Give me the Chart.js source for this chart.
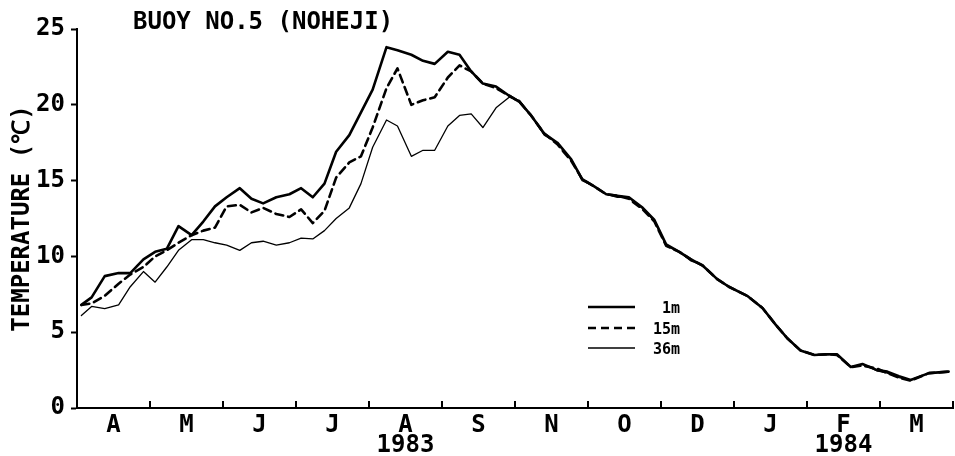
<!DOCTYPE html>
<html>
<head>
<meta charset="utf-8">
<script src="https://cdn.jsdelivr.net/npm/chart.js@4.4.0/dist/chart.umd.min.js"></script>
<style>
  html, body { margin: 0; padding: 0; background: #fff; }
  canvas { display: block; }
</style>
</head>
<body>
<canvas id="buoyChart" width="955" height="456"></canvas>
<script>
// x position in months counted from 1 April 1983 (about one reading per 5 days)
const months = [
  0.06, 0.20, 0.38, 0.57, 0.73, 0.91, 1.07, 1.23, 1.39, 1.57,
  1.73, 1.89, 2.05, 2.23, 2.39, 2.55, 2.73, 2.91, 3.07, 3.23,
  3.39, 3.55, 3.73, 3.89, 4.05, 4.24, 4.39, 4.58, 4.74, 4.90,
  5.08, 5.24, 5.40, 5.56, 5.74, 5.92, 6.06, 6.22, 6.40, 6.58,
  6.77, 6.92, 7.09, 7.25, 7.40, 7.56, 7.75, 7.91, 8.07, 8.25,
  8.41, 8.57, 8.77, 8.93, 9.18, 9.39, 9.57, 9.73, 9.91, 10.10,
  10.28, 10.41, 10.60, 10.76, 10.96, 11.10, 11.26, 11.42, 11.67, 11.94
];

const temp1m = [
  6.8, 7.3, 8.7, 8.9, 8.9, 9.8, 10.3, 10.5, 12.0, 11.4,
  12.3, 13.3, 13.9, 14.5, 13.8, 13.5, 13.9, 14.1, 14.5, 13.9,
  14.8, 16.9, 18.0, 19.5, 21.0, 23.8, 23.6, 23.3, 22.9, 22.7,
  23.5, 23.3, 22.2, 21.4, 21.2, 20.6, 20.2, 19.3, 18.1, 17.5,
  16.4, 15.1, 14.6, 14.1, 14.0, 13.9, 13.2, 12.4, 10.8, 10.3,
  9.8, 9.4, 8.5, 8.0, 7.4, 6.6, 5.5, 4.6, 3.8, 3.5,
  3.55, 3.55, 2.7, 2.9, 2.5, 2.4, 2.1, 1.85, 2.3, 2.4
];

const temp15m = [
  6.8, 6.9, 7.4, 8.2, 8.8, 9.3, 10.0, 10.4, 10.9, 11.4,
  11.7, 11.9, 13.3, 13.4, 12.9, 13.2, 12.8, 12.6, 13.1, 12.2,
  13.0, 15.2, 16.2, 16.6, 18.5, 21.1, 22.4, 20.0, 20.3, 20.5,
  21.8, 22.6, 22.2, 21.4, 21.1, 20.6, 20.2, 19.3, 18.1, 17.4,
  16.3, 15.1, 14.6, 14.1, 14.0, 13.8, 13.1, 12.3, 10.7, 10.3,
  9.8, 9.4, 8.5, 8.0, 7.4, 6.6, 5.5, 4.6, 3.8, 3.5,
  3.55, 3.5, 2.7, 2.8, 2.6, 2.3, 2.0, 1.8, 2.3, 2.4
];

const temp36m = [
  6.1, 6.7, 6.55, 6.8, 8.0, 9.0, 8.3, 9.3, 10.4, 11.1,
  11.1, 10.9, 10.75, 10.4, 10.9, 11.0, 10.75, 10.9, 11.2, 11.15,
  11.7, 12.5, 13.2, 14.8, 17.2, 19.0, 18.6, 16.6, 17.0, 17.0,
  18.6, 19.3, 19.4, 18.5, 19.8, 20.5, 20.3, 19.3, 18.0, 17.5,
  16.4, 15.0, 14.6, 14.1, 13.9, 13.9, 13.2, 12.3, 10.7, 10.3,
  9.7, 9.4, 8.5, 8.0, 7.4, 6.6, 5.5, 4.6, 3.8, 3.5,
  3.5, 3.55, 2.7, 2.9, 2.45, 2.3, 2.0, 1.85, 2.3, 2.4
];

const monthLabels = ["A", "M", "J", "J", "A", "S", "N", "O", "D", "J", "F", "M"];
const yearLabels = ["", "", "", "", "1983", "", "", "", "", "", "1984", ""];
const yTicks = [0, 5, 10, 15, 20, 25];
const seriesNames = ["1m", "15m", "36m"];
const titleText = "BUOY NO.5 (NOHEJI)";
const yTitle = "TEMPERATURE (℃)";

const FONT = '"DejaVu Sans Mono", "Liberation Mono", monospace';

function points(values) {
  return months.map((m, i) => ({ x: m, y: values[i] }));
}

const data = {
  datasets: [
    {
      label: seriesNames[0],
      data: points(temp1m),
      borderColor: "#000",
      borderWidth: 2.6,
      order: 1
    },
    {
      label: seriesNames[1],
      data: points(temp15m),
      borderColor: "#000",
      borderWidth: 2.6,
      borderDash: [8, 5],
      order: 2
    },
    {
      label: seriesNames[2],
      data: points(temp36m),
      borderColor: "#000",
      borderWidth: 1.3,
      order: 3
    }
  ]
};

const frame = {
  id: "frame",
  afterDraw(chart) {
    const { ctx, scales: { x, y } } = chart;
    ctx.save();

    // month boundary ticks, pointing into the plot
    ctx.strokeStyle = "#000";
    ctx.lineWidth = 2;
    for (let i = 1; i <= monthLabels.length; i++) {
      const px = x.getPixelForValue(i);
      ctx.beginPath();
      ctx.moveTo(px, y.bottom);
      ctx.lineTo(px, y.bottom - 7);
      ctx.stroke();
    }

    // title
    ctx.fillStyle = "#000";
    ctx.font = "bold 24px " + FONT;
    ctx.textAlign = "left";
    ctx.textBaseline = "alphabetic";
    ctx.fillText(titleText, 133, 28.5);

    // legend
    ctx.font = "bold 15px " + FONT;
    ctx.textAlign = "right";
    const rows = [307, 328, 348];
    chart.data.datasets.forEach((ds, i) => {
      ctx.lineWidth = ds.borderWidth;
      ctx.setLineDash(ds.borderDash || []);
      ctx.beginPath();
      ctx.moveTo(588, rows[i]);
      ctx.lineTo(635, rows[i]);
      ctx.stroke();
      ctx.setLineDash([]);
      ctx.fillText(ds.label, 680, rows[i] + 5.5);
    });

    ctx.restore();
  }
};

const myChart = new Chart(document.getElementById("buoyChart"), {
  type: "line",
  data: data,
  plugins: [frame],
  options: {
    responsive: false,
    animation: false,
    layout: {
      padding: { top: 29, right: 2, bottom: 0, left: 0 }
    },
    elements: {
      point: { radius: 0 },
      line: { tension: 0, borderJoinStyle: "round", borderCapStyle: "round" }
    },
    plugins: {
      legend: { display: false },
      tooltip: { enabled: false }
    },
    scales: {
      x: {
        type: "linear",
        min: 0,
        max: 12,
        afterBuildTicks(scale) {
          scale.ticks = monthLabels.map((_, i) => ({ value: i + 0.5 }));
        },
        afterFit(scale) {
          scale.height = 48;
        },
        grid: { display: false },
        border: { display: true, color: "#000", width: 2 },
        ticks: {
          autoSkip: false,
          maxRotation: 0,
          padding: 0,
          color: "#000",
          font: { family: FONT, size: 24, weight: "bold", lineHeight: "20px" },
          callback(value, index) {
            return yearLabels[index] ? [monthLabels[index], yearLabels[index]] : monthLabels[index];
          }
        }
      },
      y: {
        min: 0,
        max: 25,
        afterBuildTicks(scale) {
          scale.ticks = yTicks.map(v => ({ value: v }));
        },
        afterFit(scale) {
          scale.width = 77;
        },
        grid: {
          drawOnChartArea: false,
          drawTicks: true,
          tickLength: 6,
          tickWidth: 2,
          tickColor: "#000"
        },
        border: { display: true, color: "#000", width: 2 },
        ticks: {
          padding: 6,
          color: "#000",
          font: { family: FONT, size: 24, weight: "bold" }
        },
        title: {
          display: true,
          text: yTitle,
          color: "#000",
          padding: { top: 8, bottom: 0 },
          font: { family: FONT, size: 24, weight: "bold" }
        }
      }
    }
  }
});
</script>
</body>
</html>
